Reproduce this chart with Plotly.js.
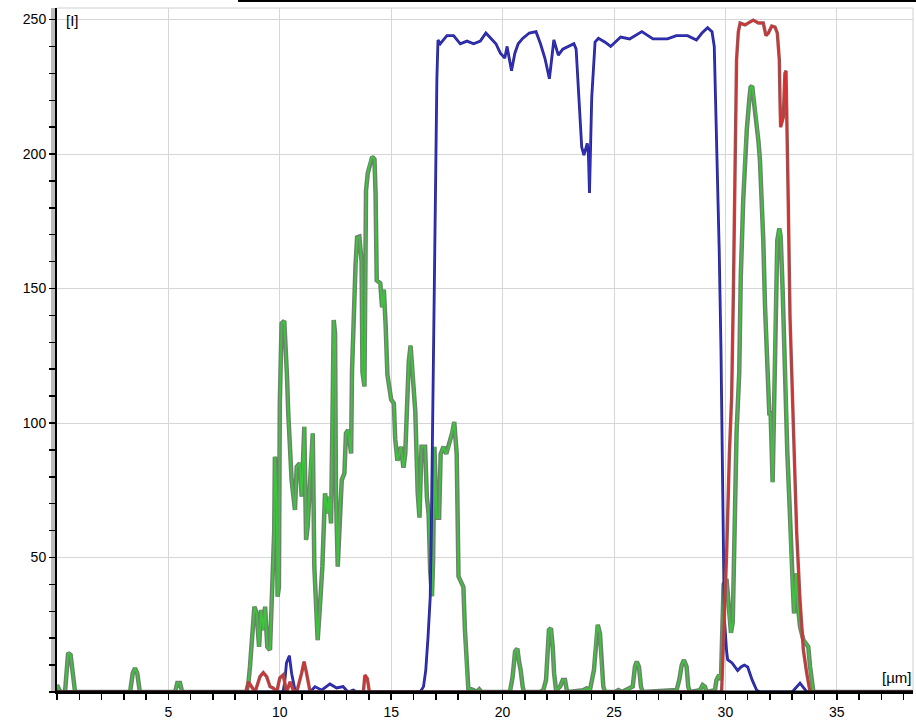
<!DOCTYPE html>
<html>
<head>
<meta charset="utf-8">
<script src="https://cdn.plot.ly/plotly-3.0.1.min.js"></script>
<style>
html,body{margin:0;padding:0;background:#fff;}
#chart{width:916px;height:723px;}
</style>
</head>
<body>
<div id="chart"></div>
<script>
// ---- data ----
const greenX = [0,0.15,0.36,0.43,0.5,0.61,0.7,0.8,0.85,
3.28,3.4,3.5,3.6,3.72,
5.3,5.4,5.52,5.62,
8.5,8.59,8.66,8.77,8.86,8.96,9.07,9.16,9.26,9.34,9.44,9.56,9.63,9.68,9.75,9.78,9.86,9.9,9.96,10.0,10.08,10.2,10.27,10.32,10.38,10.46,10.53,10.68,10.76,10.9,10.98,11.1,11.18,11.25,11.36,11.48,11.55,11.61,11.7,11.8,11.91,12.03,12.15,12.21,12.3,12.36,12.42,12.48,12.52,12.6,12.7,12.78,12.9,12.97,13.07,13.2,13.24,13.3,13.4,13.47,13.57,13.67,13.71,13.8,13.84,13.87,13.95,14.05,14.15,14.25,14.3,14.35,14.51,14.59,14.67,14.75,14.83,15.0,15.12,15.18,15.28,15.44,15.55,15.63,15.71,15.79,15.87,15.98,16.08,16.19,16.27,16.36,16.52,16.6,16.68,16.75,16.83,16.88,16.94,17.04,17.15,17.22,17.35,17.47,17.58,17.74,17.83,17.94,18.02,18.24,18.31,18.39,18.46,18.69,18.83,18.95,19.05,
20.33,20.45,20.56,20.66,20.75,20.81,20.9,20.96,
21.68,21.83,21.95,22.0,22.08,22.17,22.25,22.31,22.4,22.58,22.7,22.8,22.88,22.95,
23.62,23.77,23.92,24.1,24.19,24.27,24.37,24.44,24.52,24.6,
25.04,25.2,25.35,
25.84,25.94,26.02,26.12,26.21,26.29,
27.81,27.93,28.04,28.14,28.26,28.33,28.41,
28.86,28.98,29.08,29.16,
29.53,29.6,29.72,29.8,29.87,29.92,30.05,30.15,30.25,30.33,30.4,30.45,30.5,30.62,30.69,30.8,30.88,30.96,31.07,31.13,31.2,31.28,31.37,31.48,31.55,31.63,31.7,31.78,31.85,31.97,32.03,32.08,32.12,32.18,32.23,32.33,32.42,32.48,32.57,32.63,32.72,32.78,32.87,32.93,33.02,33.08,33.17,33.23,33.35,33.5,33.62,33.72,33.8,33.87,33.95,38.4];
const greenY = [2.6,0,0,7,14.5,13.8,7,0.7,0,
0,7,8.9,7,0,
0,3.3,3.3,0,
0,3.3,9.3,20.6,31.7,29.3,16.8,30.5,23,31.7,16.8,15.6,35.4,47.8,60,87.5,71.4,35.4,39,107,137,138,128,118,103.6,87.5,78.8,67.7,83.7,85,72.6,98.6,56.5,61.5,81.3,96.2,46.6,34.2,19.3,31.7,46.6,73.9,66.4,72.6,62.7,98.6,138.3,133.3,73.9,46.6,68.9,78.8,81.3,96.2,97.4,88.7,119,136,158.8,169,169.3,160,119,113.6,147,186.4,193,197,199,198,185,153,152,143,149.6,136.4,117.9,108.7,107.3,94,86,91.2,83.4,88.5,104.5,123,128.8,117.8,104.5,74,64.8,91.2,91.2,72.7,66,45,35.6,48.7,91.2,64.8,64.8,88.5,91.2,88.5,91.2,96.4,100.4,88.5,43,39,23,7,1.4,0.7,0,1,0,
0,5.7,15,16.2,10.7,8.2,2,0,
0,0.7,4.5,13,23,23.7,16.8,7,0.7,2,4.5,4.5,0.7,0,
0.7,1.4,0.7,8.2,20.6,25,21.8,9.4,2,0,
0,0.7,0,
2,9.4,11.3,9.4,2,0,
0.7,4.5,10,11.9,9.4,2,0,
0.7,2.6,2,0,
0.7,4.5,6.3,4.5,20,40,42,30,22,26,60,80,96.2,118.5,154.4,183,201.5,209,220,224.8,225.3,220,215,205,197.8,183,168,143,130.9,103.6,103.6,88.7,78,103.6,135.8,168,172.4,169.3,149.4,128.4,113.5,88.7,71.4,52.8,40.4,29.2,44.1,34.2,24.3,19.3,18.1,16.8,9.4,4.5,0,0];

const blueX = [0,10.15,10.23,10.3,10.43,10.53,10.68,10.8,11.36,11.58,11.88,12.25,12.55,12.84,13.06,13.3,13.45,16.3,16.45,16.55,16.65,16.75,16.8,16.85,16.9,16.95,17.0,17.05,17.1,17.2,17.5,17.8,18.1,18.4,18.7,19.0,19.25,19.5,19.7,19.9,20.1,20.2,20.4,20.55,20.7,20.9,21.2,21.5,21.7,21.9,22.1,22.3,22.5,22.7,22.95,23.2,23.3,23.45,23.55,23.65,23.8,23.85,23.9,24.0,24.15,24.3,24.6,24.85,25.3,25.7,26.25,26.75,27.4,27.8,28.3,28.7,28.95,29.2,29.4,29.5,29.55,29.65,29.72,29.8,29.85,29.9,29.95,30.05,30.1,30.3,30.55,30.7,30.85,31.0,31.2,31.4,31.55,33.0,33.35,33.66,38.4];
const blueY = [0,0,4.5,10.8,13.5,7,0.7,0,0,2,0.7,3,1.5,2,0,0.7,0,0,2,8,20,35,60,95,130,170,200,228,242.4,241,244,244,241,242,241,242,245,242.8,241,237.5,235.7,240,231,237.5,241,243,245,245.5,241,235.6,228,242.4,236.8,239,240,241,239,217.5,202.6,199.6,204,200,185.5,221,241.6,243,241.6,240,243.5,242.8,245.5,242.8,242.8,244,244,242.4,245,247,245.5,240,224,190,165,128,89,53,28,15.6,12,10.8,8,9.3,10,9.3,4.5,0.7,0,0,3.3,0,0];

const redX = [0,8.5,8.59,8.74,8.89,9.11,9.26,9.41,9.56,9.71,9.86,10.0,10.15,10.31,10.46,10.6,10.76,10.98,11.09,11.2,11.36,13.75,13.82,13.93,14.02,29.83,29.94,30.06,30.18,30.28,30.36,30.43,30.5,30.58,30.66,30.88,31.1,31.25,31.48,31.7,31.82,31.93,32.08,32.23,32.33,32.42,32.45,32.48,32.6,32.67,32.72,32.78,32.82,32.9,32.97,33.08,33.2,33.35,33.5,33.65,33.77,33.8,38.4];
const redY = [0,0,3.8,2,0,5.7,7.2,5.7,2,1.4,0,5.2,6.3,0,3.8,0.7,0,7,11.3,7,0,0,6.3,5,0,0,23,52.8,88.8,109.7,149.4,190,235,245.4,248.7,248,249,249.8,248.7,248.7,244,245,247.6,247.2,245,235,220,210,213.8,230,231,207.8,183,139.4,120.8,88.8,59,34,15.6,7,0.7,0,0];

const xTickVals = [5,10,15,20,25,30,35];
const yTickVals = [50,100,150,200,250];
const yLabel = "[I]";
const xLabel = "[µm]";

// ---- chart ----
const font = {family: "Liberation Sans, Arial, sans-serif", size: 14, color: "#000"};
const traces = [
  {x: greenX, y: greenY, mode: "lines", line: {color: "#6f806f", width: 4.5}, hoverinfo: "skip"},
  {x: greenX, y: greenY, mode: "lines", line: {color: "#3dc43d", width: 1.8}},
  {x: blueX, y: blueY, mode: "lines", line: {color: "#23238f", width: 2.8}},
  {x: blueX, y: blueY, mode: "lines", line: {color: "#3434c0", width: 1.2}, hoverinfo: "skip"},
  {x: redX, y: redY, mode: "lines", line: {color: "#9a5656", width: 3.4}, hoverinfo: "skip"},
  {x: redX, y: redY, mode: "lines", line: {color: "#d83030", width: 1.5}}
];
const W = 916, H = 723, L = 57, R = 3, T = 8, B = 31;
const pw = W - L - R, ph = H - T - B;
const layout = {
  width: W, height: H,
  margin: {l: L, r: R, t: T, b: B, pad: 0},
  paper_bgcolor: "#fff", plot_bgcolor: "#fff",
  showlegend: false,
  font: font,
  xaxis: {
    range: [0, 38.42], tickvals: xTickVals, ticktext: xTickVals.map(String),
    ticks: "outside", ticklen: 6, tickwidth: 1.5, tickcolor: "#000",
    showline: true, linecolor: "#000", linewidth: 2,
    showgrid: true, gridcolor: "#d6d6d6", gridwidth: 1, zeroline: false,
    tickfont: font, fixedrange: true,
    minor: {dtick: 1, tick0: 0, ticks: "outside", ticklen: 6, tickwidth: 1.5, tickcolor: "#000", showgrid: false}
  },
  yaxis: {
    range: [0, 254.3], tickvals: yTickVals, ticktext: yTickVals.map(String),
    ticks: "outside", ticklen: 6, tickwidth: 1.5, tickcolor: "#000",
    showline: true, linecolor: "#000", linewidth: 2,
    showgrid: true, gridcolor: "#d6d6d6", gridwidth: 1, zeroline: false,
    tickfont: font, fixedrange: true,
    minor: {dtick: 10, tick0: 0, ticks: "outside", ticklen: 6, tickwidth: 1.5, tickcolor: "#000", showgrid: false}
  },
  shapes: [
    {type: "rect", xref: "paper", yref: "paper", x0: -6/pw, x1: -1/pw, y0: 0, y1: 1,
     fillcolor: "#bcbcbc", line: {width: 0}, layer: "below"},
    {type: "line", xref: "paper", yref: "paper", x0: 0, x1: 1, y0: 1, y1: 1,
     line: {color: "#d0d0d0", width: 1}, layer: "below"},
    {type: "line", xref: "paper", yref: "paper", x0: 1, x1: 1, y0: 0, y1: 1,
     line: {color: "#d0d0d0", width: 1}, layer: "below"},
    // baseline drawn above the traces so the zero-level lines sit under the axis
    {type: "line", xref: "paper", yref: "paper", x0: -1/pw, x1: 1, y0: 0, y1: 0,
     line: {color: "#000", width: 3}, layer: "above"},
    {type: "line", xref: "paper", yref: "paper", x0: (238 - L)/pw, x1: (W - L)/pw, y0: (ph + T - 1)/ph, y1: (ph + T - 1)/ph,
     line: {color: "#000", width: 2}}
  ],
  annotations: [
    {text: yLabel, xref: "paper", yref: "paper", x: (64 - L)/pw, y: (692 - 20)/ph,
     xanchor: "left", yanchor: "middle", showarrow: false, font: {family: font.family, size: 15, color: "#000"}},
    {text: xLabel, xref: "paper", yref: "paper", x: (913 - L)/pw, y: (692 - 677)/ph,
     xanchor: "right", yanchor: "middle", showarrow: false, font: {family: font.family, size: 15, color: "#000"}}
  ]
};
Plotly.newPlot("chart", traces, layout, {displayModeBar: false, staticPlot: true});
</script>
</body>
</html>
